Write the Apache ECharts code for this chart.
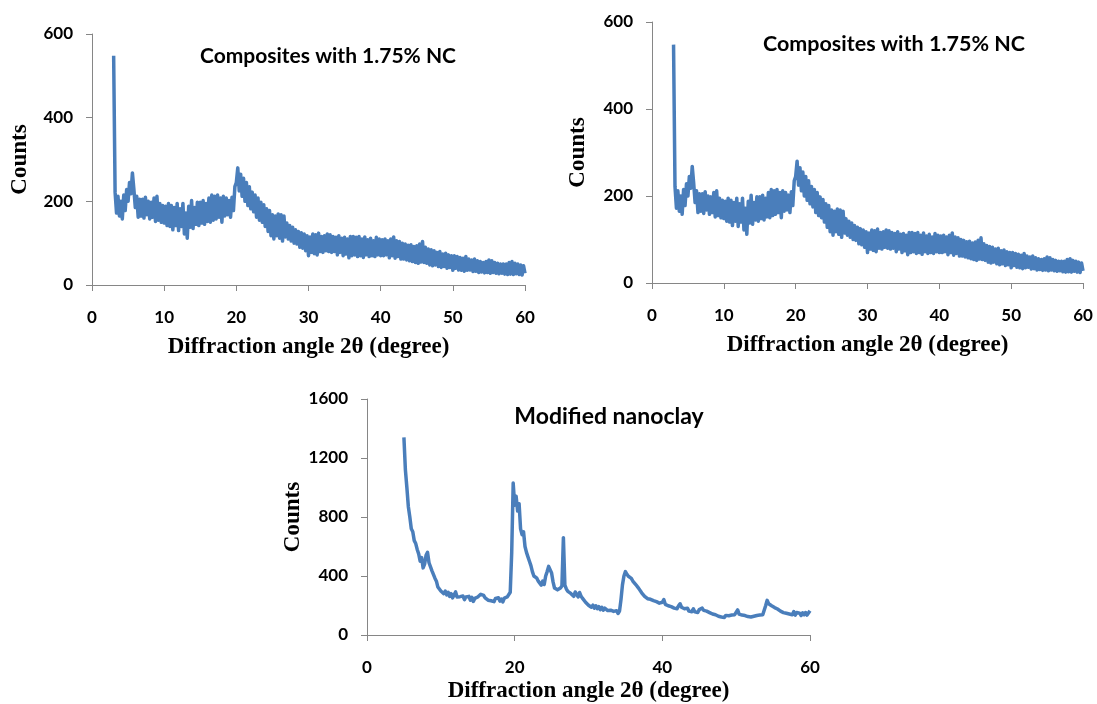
<!DOCTYPE html>
<html>
<head>
<meta charset="utf-8">
<script src="https://cdn.jsdelivr.net/npm/echarts@6/dist/echarts.min.js"></script>
<style>
html,body{margin:0;padding:0;background:#fff;}
#chart{width:1097px;height:704px;}
</style>
</head>
<body>
<div id="chart"></div>
<script>
// ---- Data ----
const compStart = 3.0;   // first 2θ sample of the composite scan
const clayStart = 5.0;   // first 2θ sample of the nanoclay scan
const sampleStep = 0.2;  // 2θ spacing of samples

// Composites with 1.75% NC (counts), 3.0° .. 60.0°
const compCounts = [
  548, 222, 172, 212, 165, 200, 158, 215, 178, 228,
  200, 245, 218, 268, 230, 185, 212, 162, 205, 165,
  205, 160, 210, 168, 200, 158, 198, 162, 208, 152,
  212, 155, 195, 150, 190, 148, 188, 142, 195, 140,
  190, 132, 185, 142, 195, 130, 182, 140, 195, 122,
  172, 112, 188, 138, 202, 135, 185, 145, 198, 142,
  198, 148, 202, 145, 195, 152, 208, 150, 215, 155,
  212, 158, 215, 162, 208, 150, 212, 165, 208, 168,
  202, 162, 210, 178, 235, 245, 280, 225, 265, 212,
  255, 200, 245, 190, 235, 182, 222, 175, 215, 162,
  208, 155, 198, 150, 192, 140, 182, 128, 178, 118,
  168, 110, 165, 118, 170, 112, 168, 105, 165, 115,
  148, 110, 142, 105, 138, 100, 132, 98, 128, 90,
  125, 88, 122, 82, 118, 70, 115, 78, 122, 75,
  120, 72, 124, 80, 116, 78, 118, 82, 122, 80,
  120, 78, 116, 80, 114, 72, 118, 78, 112, 70,
  114, 74, 110, 65, 116, 70, 116, 72, 114, 68,
  116, 70, 110, 66, 115, 72, 108, 68, 112, 70,
  106, 68, 114, 72, 110, 70, 108, 70, 110, 72,
  106, 65, 110, 70, 115, 64, 106, 68, 104, 62,
  100, 62, 98, 60, 95, 58, 96, 56, 92, 54,
  94, 52, 98, 55, 104, 54, 90, 52, 86, 48,
  84, 46, 82, 48, 78, 44, 80, 42, 74, 44,
  76, 40, 72, 42, 70, 35, 70, 40, 68, 36,
  66, 35, 64, 33, 68, 35, 62, 36, 60, 32,
  62, 33, 58, 30, 56, 31, 54, 29, 56, 30,
  60, 28, 58, 30, 54, 28, 52, 27, 50, 28,
  50, 26, 50, 25, 54, 26, 56, 25, 52, 27,
  50, 25, 48, 24, 46, 28
];

// Modified nanoclay (counts), 5.0° .. 60.0°
const clayCounts = [
  1340, 1120, 1000, 870, 800, 720, 700, 640, 620, 580,
  550, 500, 525, 455, 480, 540, 560, 490, 478, 435,
  425, 385, 365, 325, 328, 298, 305, 280, 298, 272,
  290, 262, 280, 252, 272, 292, 258, 262, 260, 248,
  264, 240, 258, 246, 262, 236, 255, 228, 248, 246,
  258, 256, 276, 270, 268, 252, 250, 236, 238, 232,
  242, 226, 248, 236, 252, 230, 244, 224, 250, 238,
  258, 262, 290, 560, 1030, 880, 940, 840, 890, 720,
  680, 700, 600, 560, 530, 500, 470, 430, 400, 390,
  385, 365, 358, 338, 365, 342, 400, 430, 465, 455,
  420, 360, 318, 308, 306, 302, 318, 332, 660, 338,
  312, 296, 298, 282, 284, 262, 292, 276, 258, 288,
  262, 248, 238, 222, 218, 202, 212, 188, 202, 182,
  198, 178, 192, 172, 188, 168, 182, 170, 166, 176,
  168, 168, 160, 152, 165, 146, 162, 240, 340, 400,
  430, 412, 398, 396, 384, 366, 358, 342, 338, 316,
  304, 286, 278, 262, 263, 246, 243, 242, 232, 233,
  228, 226, 218, 216, 213, 222, 240, 208, 218, 198,
  208, 192, 203, 182, 193, 178, 198, 212, 188, 177,
  178, 167, 182, 162, 173, 158, 177, 157, 168, 153,
  172, 172, 182, 167, 168, 162, 163, 152, 153, 142,
  148, 137, 138, 127, 135, 122, 131, 119, 133, 122,
  131, 132, 135, 135, 138, 137, 170, 142, 143, 135,
  143, 132, 133, 125, 135, 122, 125, 127, 131, 132,
  135, 135, 133, 137, 148, 200, 235, 212, 222, 198,
  198, 186, 178, 176, 173, 162, 170, 152, 162, 147,
  158, 142, 153, 137, 158, 135, 152, 139, 148, 132,
  151, 137, 152, 135, 148, 165
];

const titleComp = 'Composites with 1.75% NC';
const titleClay = 'Modified nanoclay';
const xTitle = 'Diffraction angle 2θ (degree)';
const yTitle = 'Counts';

// ---- Build series pairs ----
function pairs(start, values) {
  return values.map((v, i) => [Math.round((start + i * sampleStep) * 10) / 10, v]);
}
const compData = pairs(compStart, compCounts);
const clayData = pairs(clayStart, clayCounts);

const lineColor = '#4a7ebb';
const axisColor = '#868686';
const labelFont = { fontFamily: 'Lato', fontWeight: 'bold', fontSize: 17, color: '#000' };
const nameFont = { fontFamily: 'Liberation Serif', fontWeight: 'bold', fontSize: 23, color: '#000' };

function xAx(grid, interval, nameGap) {
  return {
    type: 'value', gridIndex: grid, min: 0, max: 60, interval: interval,
    name: xTitle, nameLocation: 'middle', nameGap: nameGap, nameTextStyle: nameFont,
    axisLine: { show: true, lineStyle: { color: axisColor, width: 1 } },
    axisTick: { show: true, inside: false, length: 6, lineStyle: { color: axisColor } },
    axisLabel: Object.assign({ margin: 24, formatter: v => String(v) }, labelFont),
    splitLine: { show: false }
  };
}
function yAx(grid, max, interval, nameGap) {
  return {
    type: 'value', gridIndex: grid, min: 0, max: max, interval: interval,
    name: yTitle, nameLocation: 'middle', nameGap: nameGap, nameRotate: 90, nameTextStyle: nameFont,
    axisLine: { show: true, lineStyle: { color: axisColor, width: 1 } },
    axisTick: { show: true, inside: false, length: 6, lineStyle: { color: axisColor } },
    axisLabel: Object.assign({ margin: 19, formatter: v => String(v) }, labelFont),
    splitLine: { show: false }
  };
}
function line(idx, data, width) {
  return {
    type: 'line', xAxisIndex: idx, yAxisIndex: idx, data: data,
    showSymbol: false, symbol: 'none', animation: false,
    lineStyle: { color: lineColor, width: width, join: 'round' }, itemStyle: { color: lineColor }
  };
}
function titleText(x, y, text, size) {
  return {
    type: 'text', x: x, y: y,
    style: { text: text, fill: '#000', font: 'bold ' + size + 'px Lato', align: 'center', verticalAlign: 'middle' }
  };
}

const chart = echarts.init(document.getElementById('chart'), null, { renderer: 'canvas' });
chart.setOption({
  animation: false,
  backgroundColor: '#fff',
  grid: [
    { left: 92, top: 34, width: 433, height: 251 },
    { left: 652, top: 22, width: 431, height: 261 },
    { left: 367, top: 399, width: 443, height: 236 }
  ],
  xAxis: [xAx(0, 10, 51), xAx(1, 10, 51), xAx(2, 20, 45)],
  yAxis: [yAx(0, 600, 200, 60), yAx(1, 600, 200, 62), yAx(2, 1600, 400, 59)],
  series: [line(0, compData, 3.5), line(1, compData, 3.5), line(2, clayData, 3.5)],
  graphic: [
    titleText(328, 56, titleComp, 21),
    titleText(894, 44, titleComp, 21.5),
    titleText(609, 417, titleClay, 23)
  ]
});
</script>
</body>
</html>
